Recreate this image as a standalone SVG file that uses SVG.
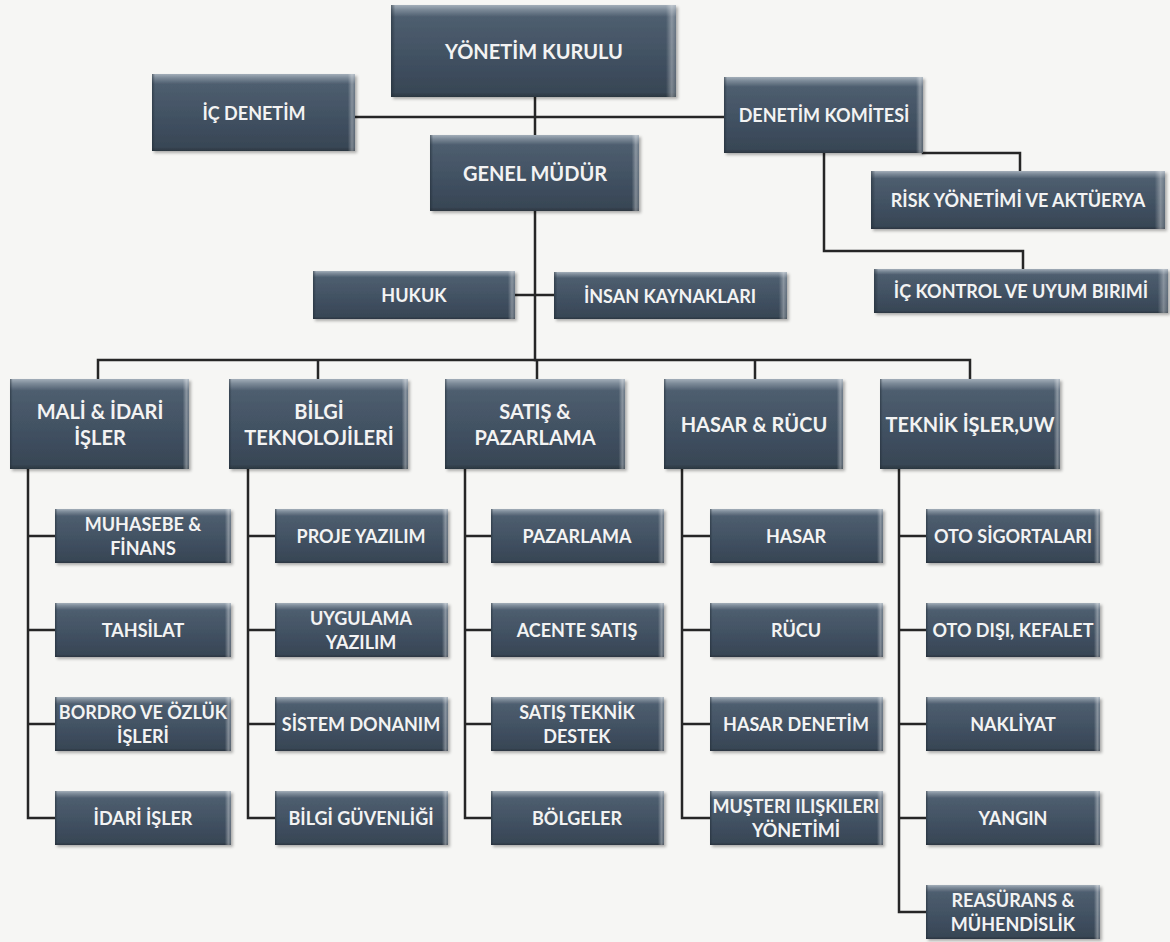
<svg xmlns="http://www.w3.org/2000/svg" width="1170" height="942" viewBox="0 0 1170 942">
<defs>
<linearGradient id="gBody" x1="0" y1="0" x2="0" y2="1">
<stop offset="0" stop-color="#a3aeb9"/>
<stop offset="0.05" stop-color="#7c8a98"/>
<stop offset="0.13" stop-color="#4e5e6f"/>
<stop offset="0.6" stop-color="#405061"/>
<stop offset="0.95" stop-color="#384655"/>
<stop offset="1" stop-color="#2b3640"/>
</linearGradient>
<linearGradient id="gEdge" x1="0" y1="0" x2="1" y2="0">
<stop offset="0" stop-color="#1f2a34" stop-opacity="0.55"/>
<stop offset="0.015" stop-color="#1f2a34" stop-opacity="0"/>
<stop offset="0.965" stop-color="#ffffff" stop-opacity="0"/>
<stop offset="0.985" stop-color="#ffffff" stop-opacity="0.35"/>
<stop offset="1" stop-color="#ffffff" stop-opacity="0.15"/>
</linearGradient>
<filter id="sh" x="-5%" y="-10%" width="115%" height="130%">
<feDropShadow dx="2" dy="2" stdDeviation="1.5" flood-color="#000" flood-opacity="0.3"/>
</filter>
</defs>
<style>
.bg{fill:#f6f6f4}
.b{fill:url(#gBody);filter:url(#sh)}
.o{fill:url(#gEdge)}
.t{fill:#f3f3f3;font-family:Lato,"Open Sans","Liberation Sans",sans-serif;font-weight:700;text-anchor:middle;dominant-baseline:central}
.t20{font-size:20px}
.t18{font-size:18px}
.ln{stroke:#262626;stroke-width:2.5;fill:none;stroke-linecap:square}
</style>
<rect class="bg" x="0" y="0" width="1170" height="942"/>

<g id="connectors">
<path class="ln" d="M535 97V135M355 117H724M535 211V360M515 295H554"/>
<path class="ln" d="M923 153H1020V171M824 153V251H1023V269"/>
<path class="ln" d="M98 360H970M98 360V379M318 360V379M537 360V379M755 360V379M970 360V379"/>
<path class="ln" d="M28 469V818M28 536H55M28 630H55M28 724H55M28 818H55"/>
<path class="ln" d="M248 469V818M248 536H275M248 630H275M248 724H275M248 818H275"/>
<path class="ln" d="M465 469V818M465 536H491M465 630H491M465 724H491M465 818H491"/>
<path class="ln" d="M682 469V818M682 536H710M682 630H710M682 724H710M682 818H710"/>
<path class="ln" d="M899 469V912M899 536H926M899 630H926M899 724H926M899 818H926M899 912H926"/>
</g>

<g id="yonetim-kurulu"><rect class="b" x="391" y="5" width="285" height="92"/><rect class="o" x="391" y="5" width="285" height="92"/><text class="t t20" x="534" y="51">YÖNETİM KURULU</text></g>
<g id="ic-denetim"><rect class="b" x="152" y="74" width="203" height="77"/><rect class="o" x="152" y="74" width="203" height="77"/><text class="t t18" x="254" y="113">İÇ DENETİM</text></g>
<g id="denetim-komitesi"><rect class="b" x="724" y="77" width="199" height="76"/><rect class="o" x="724" y="77" width="199" height="76"/><text class="t t18" x="824" y="115">DENETİM KOMİTESİ</text></g>
<g id="genel-mudur"><rect class="b" x="430" y="135" width="209" height="76"/><rect class="o" x="430" y="135" width="209" height="76"/><text class="t t20" x="535" y="173">GENEL MÜDÜR</text></g>
<g id="risk"><rect class="b" x="871" y="171" width="294" height="58"/><rect class="o" x="871" y="171" width="294" height="58"/><text class="t t18" x="1018" y="200">RİSK YÖNETİMİ VE AKTÜERYA</text></g>
<g id="ic-kontrol"><rect class="b" x="874" y="269" width="294" height="44"/><rect class="o" x="874" y="269" width="294" height="44"/><text class="t t18" x="1021" y="291">İÇ KONTROL VE UYUM BIRIMİ</text></g>
<g id="hukuk"><rect class="b" x="313" y="271" width="202" height="48"/><rect class="o" x="313" y="271" width="202" height="48"/><text class="t t18" x="414" y="295">HUKUK</text></g>
<g id="insan-kaynaklari"><rect class="b" x="554" y="272" width="233" height="47"/><rect class="o" x="554" y="272" width="233" height="47"/><text class="t t18" x="670" y="296">İNSAN KAYNAKLARI</text></g>

<g id="mali-idari"><rect class="b" x="10" y="379" width="179" height="90"/><rect class="o" x="10" y="379" width="179" height="90"/><text class="t t20" x="100" y="411">MALİ &amp; İDARİ</text><text class="t t20" x="100" y="437">İŞLER</text></g>
<g id="bilgi-teknolojileri"><rect class="b" x="229" y="379" width="179" height="90"/><rect class="o" x="229" y="379" width="179" height="90"/><text class="t t20" x="319" y="411">BİLGİ</text><text class="t t20" x="319" y="437">TEKNOLOJİLERİ</text></g>
<g id="satis-pazarlama"><rect class="b" x="445" y="379" width="180" height="90"/><rect class="o" x="445" y="379" width="180" height="90"/><text class="t t20" x="535" y="411">SATIŞ &amp;</text><text class="t t20" x="535" y="437">PAZARLAMA</text></g>
<g id="hasar-rucu"><rect class="b" x="664" y="379" width="179" height="90"/><rect class="o" x="664" y="379" width="179" height="90"/><text class="t t20" x="754" y="424">HASAR &amp; RÜCU</text></g>
<g id="teknik-isler"><rect class="b" x="880" y="379" width="180" height="90"/><rect class="o" x="880" y="379" width="180" height="90"/><text class="t t20" x="970" y="424">TEKNİK İŞLER,UW</text></g>

<g id="muhasebe"><rect class="b" x="55" y="509" width="176" height="54"/><rect class="o" x="55" y="509" width="176" height="54"/><text class="t t18" x="143" y="524">MUHASEBE &amp;</text><text class="t t18" x="143" y="548">FİNANS</text></g>
<g id="tahsilat"><rect class="b" x="55" y="603" width="176" height="54"/><rect class="o" x="55" y="603" width="176" height="54"/><text class="t t18" x="143" y="630">TAHSİLAT</text></g>
<g id="bordro"><rect class="b" x="55" y="697" width="176" height="54"/><rect class="o" x="55" y="697" width="176" height="54"/><text class="t t18" x="143" y="712">BORDRO VE ÖZLÜK</text><text class="t t18" x="143" y="736">İŞLERİ</text></g>
<g id="idari-isler"><rect class="b" x="55" y="791" width="176" height="54"/><rect class="o" x="55" y="791" width="176" height="54"/><text class="t t18" x="143" y="818">İDARİ İŞLER</text></g>

<g id="proje-yazilim"><rect class="b" x="275" y="509" width="173" height="54"/><rect class="o" x="275" y="509" width="173" height="54"/><text class="t t18" x="361" y="536">PROJE YAZILIM</text></g>
<g id="uygulama-yazilim"><rect class="b" x="275" y="603" width="173" height="54"/><rect class="o" x="275" y="603" width="173" height="54"/><text class="t t18" x="361" y="618">UYGULAMA</text><text class="t t18" x="361" y="642">YAZILIM</text></g>
<g id="sistem-donanim"><rect class="b" x="275" y="697" width="173" height="54"/><rect class="o" x="275" y="697" width="173" height="54"/><text class="t t18" x="361" y="724">SİSTEM DONANIM</text></g>
<g id="bilgi-guvenligi"><rect class="b" x="275" y="791" width="173" height="54"/><rect class="o" x="275" y="791" width="173" height="54"/><text class="t t18" x="361" y="818">BİLGİ GÜVENLİĞİ</text></g>

<g id="pazarlama"><rect class="b" x="491" y="509" width="173" height="54"/><rect class="o" x="491" y="509" width="173" height="54"/><text class="t t18" x="577" y="536">PAZARLAMA</text></g>
<g id="acente-satis"><rect class="b" x="491" y="603" width="173" height="54"/><rect class="o" x="491" y="603" width="173" height="54"/><text class="t t18" x="577" y="630">ACENTE SATIŞ</text></g>
<g id="satis-teknik-destek"><rect class="b" x="491" y="697" width="173" height="54"/><rect class="o" x="491" y="697" width="173" height="54"/><text class="t t18" x="577" y="712">SATIŞ TEKNİK</text><text class="t t18" x="577" y="736">DESTEK</text></g>
<g id="bolgeler"><rect class="b" x="491" y="791" width="173" height="54"/><rect class="o" x="491" y="791" width="173" height="54"/><text class="t t18" x="577" y="818">BÖLGELER</text></g>

<g id="hasar"><rect class="b" x="710" y="509" width="173" height="54"/><rect class="o" x="710" y="509" width="173" height="54"/><text class="t t18" x="796" y="536">HASAR</text></g>
<g id="rucu"><rect class="b" x="710" y="603" width="173" height="54"/><rect class="o" x="710" y="603" width="173" height="54"/><text class="t t18" x="796" y="630">RÜCU</text></g>
<g id="hasar-denetim"><rect class="b" x="710" y="697" width="173" height="54"/><rect class="o" x="710" y="697" width="173" height="54"/><text class="t t18" x="796" y="724">HASAR DENETİM</text></g>
<g id="musteri-iliskileri"><rect class="b" x="710" y="791" width="173" height="54"/><rect class="o" x="710" y="791" width="173" height="54"/><text class="t t18" x="796" y="806">MUŞTERI ILIŞKILERI</text><text class="t t18" x="796" y="830">YÖNETİMİ</text></g>

<g id="oto-sigortalari"><rect class="b" x="926" y="509" width="174" height="54"/><rect class="o" x="926" y="509" width="174" height="54"/><text class="t t18" x="1013" y="536">OTO SİGORTALARI</text></g>
<g id="oto-disi"><rect class="b" x="926" y="603" width="174" height="54"/><rect class="o" x="926" y="603" width="174" height="54"/><text class="t t18" x="1013" y="630">OTO DIŞI, KEFALET</text></g>
<g id="nakliyat"><rect class="b" x="926" y="697" width="174" height="54"/><rect class="o" x="926" y="697" width="174" height="54"/><text class="t t18" x="1013" y="724">NAKLİYAT</text></g>
<g id="yangin"><rect class="b" x="926" y="791" width="174" height="54"/><rect class="o" x="926" y="791" width="174" height="54"/><text class="t t18" x="1013" y="818">YANGIN</text></g>
<g id="reasurans"><rect class="b" x="926" y="885" width="174" height="54"/><rect class="o" x="926" y="885" width="174" height="54"/><text class="t t18" x="1013" y="900">REASÜRANS &amp;</text><text class="t t18" x="1013" y="924">MÜHENDİSLİK</text></g>
</svg>
